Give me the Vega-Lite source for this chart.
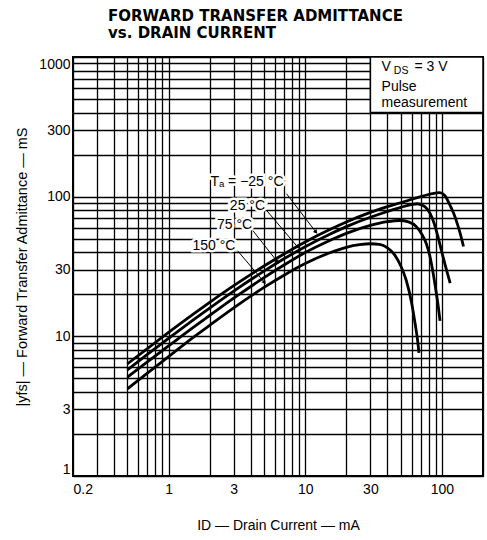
{
  "$schema": "https://vega.github.io/schema/vega-lite/v6.json",
  "width": 410,
  "height": 419,
  "autosize": {"type": "none"},
  "padding": {"left": 73, "top": 57, "right": 4, "bottom": 64},
  "background": "white",
  "config": {"view": {"stroke": "black", "strokeWidth": 2}, "font": "Liberation Sans"},
  "title": {"text": ["FORWARD TRANSFER ADMITTANCE", "vs. DRAIN CURRENT"], "anchor": "start", "frame": "group", "dx": 35, "font": "DejaVu Sans", "fontSize": 15, "fontWeight": "bold", "lineHeight": 17, "offset": 15, "color": "black"},
  "datasets": {
    "curves": [
      {"s": "-25", "x": 0.5, "y": 6.35}, {"s": "-25", "x": 0.7, "y": 8.17}, {"s": "-25", "x": 1, "y": 10.66}, {"s": "-25", "x": 1.5, "y": 14.3}, {"s": "-25", "x": 2, "y": 17.5}, {"s": "-25", "x": 3, "y": 23.05}, {"s": "-25", "x": 5, "y": 31.9}, {"s": "-25", "x": 7, "y": 38.9}, {"s": "-25", "x": 10, "y": 47.4}, {"s": "-25", "x": 15, "y": 57.9}, {"s": "-25", "x": 20, "y": 65.9}, {"s": "-25", "x": 30, "y": 77.2}, {"s": "-25", "x": 40, "y": 84.8}, {"s": "-25", "x": 50, "y": 90.5}, {"s": "-25", "x": 70, "y": 100}, {"s": "-25", "x": 85, "y": 105}, {"s": "-25", "x": 96, "y": 107}, {"s": "-25", "x": 105, "y": 102}, {"s": "-25", "x": 114, "y": 88}, {"s": "-25", "x": 122, "y": 76}, {"s": "-25", "x": 131, "y": 62}, {"s": "-25", "x": 138, "y": 52}, {"s": "-25", "x": 144, "y": 44},
      {"s": "25", "x": 0.5, "y": 5.75}, {"s": "25", "x": 0.7, "y": 7.42}, {"s": "25", "x": 1, "y": 9.67}, {"s": "25", "x": 1.5, "y": 13.0}, {"s": "25", "x": 2, "y": 15.95}, {"s": "25", "x": 3, "y": 21.1}, {"s": "25", "x": 5, "y": 29.3}, {"s": "25", "x": 7, "y": 35.9}, {"s": "25", "x": 10, "y": 43.8}, {"s": "25", "x": 15, "y": 53.6}, {"s": "25", "x": 20, "y": 61}, {"s": "25", "x": 30, "y": 71.2}, {"s": "25", "x": 40, "y": 78.3}, {"s": "25", "x": 50, "y": 83.8}, {"s": "25", "x": 60, "y": 87.8}, {"s": "25", "x": 66, "y": 89}, {"s": "25", "x": 75, "y": 85}, {"s": "25", "x": 82, "y": 76}, {"s": "25", "x": 88, "y": 64}, {"s": "25", "x": 93, "y": 53}, {"s": "25", "x": 100, "y": 40}, {"s": "25", "x": 107, "y": 31}, {"s": "25", "x": 115, "y": 24},
      {"s": "75", "x": 0.5, "y": 5.1}, {"s": "75", "x": 0.7, "y": 6.56}, {"s": "75", "x": 1, "y": 8.53}, {"s": "75", "x": 1.5, "y": 11.5}, {"s": "75", "x": 2, "y": 14.1}, {"s": "75", "x": 3, "y": 18.75}, {"s": "75", "x": 5, "y": 26.3}, {"s": "75", "x": 7, "y": 32.4}, {"s": "75", "x": 10, "y": 39.8}, {"s": "75", "x": 15, "y": 48.4}, {"s": "75", "x": 20, "y": 54.6}, {"s": "75", "x": 30, "y": 62.3}, {"s": "75", "x": 40, "y": 66.2}, {"s": "75", "x": 49, "y": 67.5}, {"s": "75", "x": 57, "y": 66}, {"s": "75", "x": 65, "y": 61}, {"s": "75", "x": 72, "y": 53}, {"s": "75", "x": 77, "y": 46}, {"s": "75", "x": 82, "y": 37}, {"s": "75", "x": 86, "y": 29}, {"s": "75", "x": 90, "y": 22}, {"s": "75", "x": 94, "y": 16.5}, {"s": "75", "x": 97, "y": 12.9},
      {"s": "150", "x": 0.5, "y": 4.2}, {"s": "150", "x": 0.7, "y": 5.45}, {"s": "150", "x": 1, "y": 7.15}, {"s": "150", "x": 1.5, "y": 9.75}, {"s": "150", "x": 2, "y": 12.0}, {"s": "150", "x": 3, "y": 16.0}, {"s": "150", "x": 5, "y": 22.4}, {"s": "150", "x": 7, "y": 27.4}, {"s": "150", "x": 10, "y": 33.2}, {"s": "150", "x": 15, "y": 39.5}, {"s": "150", "x": 20, "y": 43.4}, {"s": "150", "x": 25, "y": 45.3}, {"s": "150", "x": 30, "y": 46}, {"s": "150", "x": 35, "y": 45.5}, {"s": "150", "x": 40, "y": 43}, {"s": "150", "x": 45, "y": 38.5}, {"s": "150", "x": 50, "y": 32}, {"s": "150", "x": 55, "y": 25}, {"s": "150", "x": 60, "y": 17.5}, {"s": "150", "x": 64, "y": 12}, {"s": "150", "x": 66.5, "y": 9.3}, {"s": "150", "x": 68, "y": 7.6}
    ],
    "labels": [
      {"x": 3.75, "y": 127.6, "text": "Tₐ = −25 °C"},
      {"x": 3.78, "y": 86.2, "text": "25 °C"},
      {"x": 3.04, "y": 62.2, "text": "75 °C"},
      {"x": 2.15, "y": 44.6, "text": "150 °C"}
    ],
    "arrows": [
      {"x": 7.3, "y": 105, "x2": 12.0, "y2": 55.7},
      {"x": 5.2, "y": 80, "x2": 8.83, "y2": 43.5},
      {"x": 4.15, "y": 57, "x2": 6.3, "y2": 33.9},
      {"x": 3.2, "y": 41, "x2": 5.04, "y2": 24.3}
    ],
    "box": [{"x": 30, "x2": 200, "y": 400, "y2": 1000}],
    "boxtext": [
      {"x": 36.2, "y": 800, "text": "V"},
      {"x": 63, "y": 800, "text": "= 3 V"},
      {"x": 36.2, "y": 575, "text": "Pulse"},
      {"x": 36.2, "y": 440, "text": "measurement"}
    ],
    "boxsub": [{"x": 44.5, "y": 750, "text": "DS"}]
  },
  "encoding": {
    "x": {
      "field": "x", "type": "quantitative",
      "scale": {"type": "log", "domain": [0.2, 200], "nice": false},
      "axis": {
        "values": [0.2, 0.3, 0.4, 0.5, 0.6, 0.7, 0.8, 0.9, 1, 2, 3, 4, 5, 6, 7, 8, 9, 10, 20, 30, 40, 50, 60, 70, 80, 90, 100, 200],
        "labelExpr": "indexof([0.2, 1, 3, 10, 30, 100], datum.value) >= 0 ? format(datum.value, '~g') : ''",
        "grid": true, "gridColor": "black", "gridWidth": 1.3, "gridOpacity": 1,
        "ticks": false, "domain": false,
        "labelFontSize": 14, "labelColor": "black", "labelPadding": 6, "labelFlush": true,
        "title": "ID — Drain Current — mA", "titleFontSize": 14, "titleFontWeight": "normal", "titleColor": "black", "titleY": 49, "titleBaseline": "middle"
      }
    },
    "y": {
      "field": "y", "type": "quantitative",
      "scale": {"type": "log", "domain": [1, 1000], "nice": false},
      "axis": {
        "values": [1, 2, 3, 4, 5, 6, 7, 8, 9, 10, 20, 30, 40, 50, 60, 70, 80, 90, 100, 200, 300, 400, 500, 600, 700, 800, 900, 1000],
        "labelExpr": "indexof([1, 3, 10, 30, 100, 300, 1000], datum.value) >= 0 ? format(datum.value, '~g') : ''",
        "grid": true, "gridColor": "black", "gridWidth": 1.3, "gridOpacity": 1,
        "ticks": false, "domain": false,
        "labelFontSize": 14, "labelColor": "black", "labelPadding": 3, "labelFlush": true,
        "title": "|yfs| — Forward Transfer Admittance — mS", "titleFontSize": 14.5, "titleFontWeight": "normal", "titleColor": "black", "titleX": -51, "titleBaseline": "middle"
      }
    }
  },
  "layer": [
    {"data": {"name": "box"}, "mark": {"type": "rect", "fill": "white", "stroke": "black", "strokeWidth": 1.5}, "encoding": {"x2": {"field": "x2"}, "y2": {"field": "y2"}}},
    {"data": {"name": "curves"}, "mark": {"type": "line", "color": "black", "strokeWidth": 2.8, "interpolate": "monotone"}, "encoding": {"detail": {"field": "s"}}},
    {"data": {"name": "labels"}, "mark": {"type": "text", "fontSize": 14, "fill": "white", "stroke": "white", "strokeWidth": 5, "align": "center", "baseline": "middle"}, "encoding": {"text": {"field": "text"}}},
    {"data": {"name": "arrows"}, "mark": {"type": "rule", "color": "black", "strokeWidth": 1}, "encoding": {"x2": {"field": "x2"}, "y2": {"field": "y2"}}},
    {"data": {"name": "arrows"}, "mark": {"type": "point", "shape": "triangle-up", "filled": true, "color": "black", "opacity": 1, "size": 22, "angle": 141}, "encoding": {"x": {"field": "x2", "type": "quantitative"}, "y": {"field": "y2", "type": "quantitative"}}},
    {"data": {"name": "labels"}, "mark": {"type": "text", "fontSize": 14, "color": "black", "align": "center", "baseline": "middle"}, "encoding": {"text": {"field": "text"}}},
    {"data": {"name": "boxtext"}, "mark": {"type": "text", "fontSize": 14, "color": "black", "align": "left", "baseline": "alphabetic"}, "encoding": {"text": {"field": "text"}}},
    {"data": {"name": "boxsub"}, "mark": {"type": "text", "fontSize": 10.5, "color": "black", "align": "left", "baseline": "alphabetic"}, "encoding": {"text": {"field": "text"}}}
  ]
}
